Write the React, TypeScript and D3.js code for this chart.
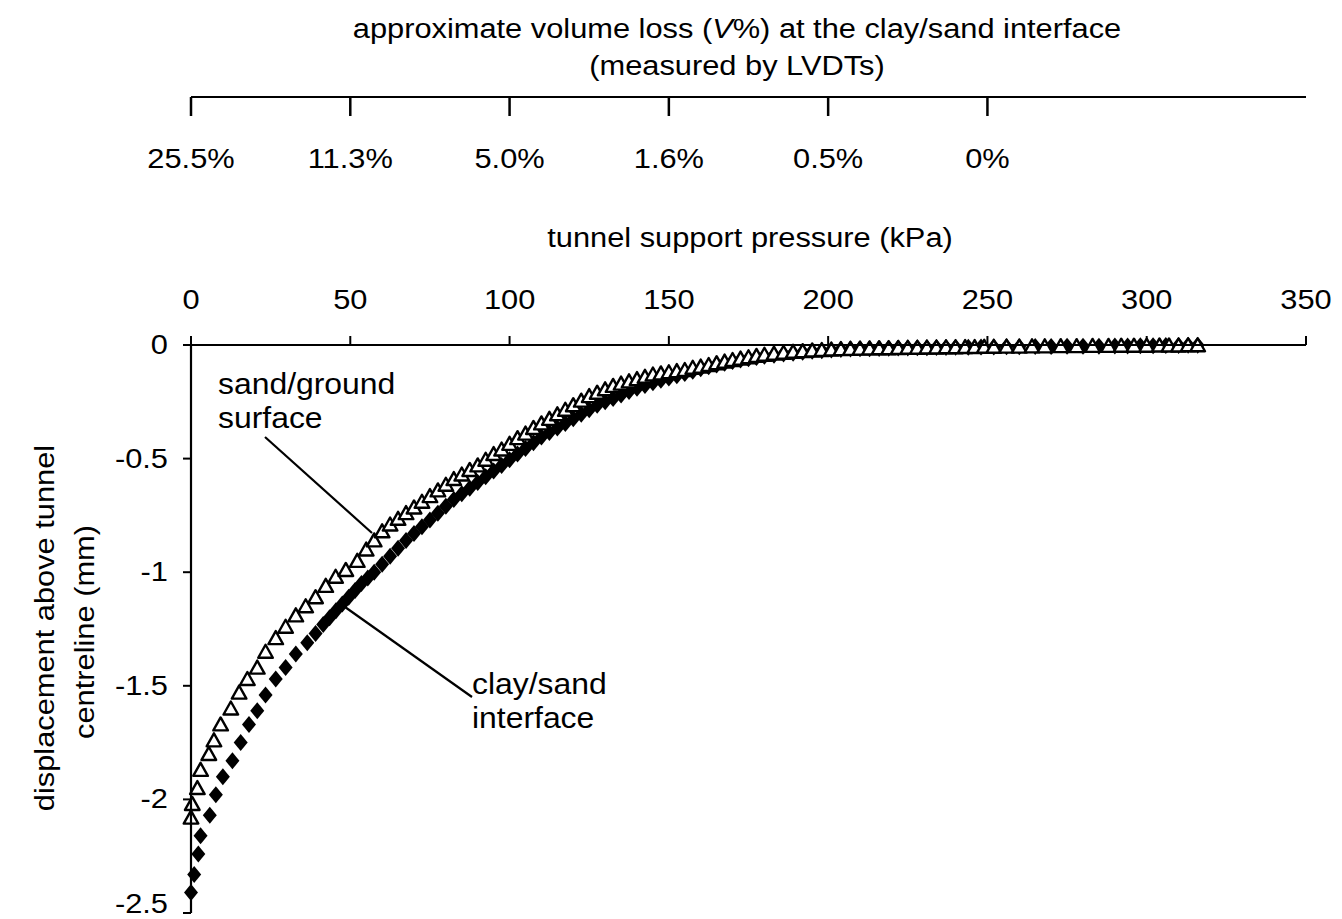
import React from "react";
import * as d3 from "d3";

// sand/ground surface (open triangles): [support pressure kPa, displacement mm]
const sandSurface: [number, number][] = [
  [0, -2.08], [0.4, -2.02], [2.0, -1.95], [3.0, -1.87], [5.6, -1.8], [7.2, -1.74],
  [9.3, -1.67], [12.5, -1.6], [15.1, -1.53], [17.7, -1.47], [20.8, -1.42], [23.4, -1.35],
  [26.6, -1.29], [29.7, -1.24], [32.9, -1.19], [36.0, -1.15], [39.1, -1.11], [42.3, -1.06],
  [45.4, -1.02], [48.6, -0.99], [52.2, -0.95], [55, -0.9], [57.5, -0.86], [60, -0.82],
  [62.5, -0.79], [65, -0.765], [67.5, -0.74], [70, -0.715], [72.5, -0.69], [75, -0.665],
  [77.5, -0.64], [80, -0.615], [82.5, -0.59], [85, -0.57], [87.5, -0.55], [90, -0.53],
  [92.5, -0.505], [95, -0.48], [97.5, -0.46], [100, -0.435], [102.5, -0.41], [105, -0.39],
  [107.5, -0.365], [110, -0.345], [112.5, -0.325], [115, -0.305], [117.5, -0.285], [120, -0.265],
  [122.5, -0.245], [125, -0.225], [127.5, -0.21], [130, -0.195], [132.5, -0.18], [135, -0.17],
  [137.5, -0.16], [140, -0.15], [142.5, -0.14], [145, -0.13], [147.5, -0.125], [150, -0.12],
  [152.5, -0.115], [155, -0.11], [157.5, -0.1], [160, -0.095], [162.5, -0.088], [165, -0.08],
  [167.5, -0.073], [170, -0.066], [172.5, -0.06], [175, -0.054], [177.5, -0.048], [180, -0.043],
  [183, -0.038], [186, -0.034], [189, -0.03], [192, -0.027], [195, -0.024], [198, -0.022],
  [201, -0.02], [204, -0.018], [207, -0.017], [210, -0.016], [213, -0.015], [216, -0.014],
  [219, -0.014], [222, -0.013], [225, -0.012], [228, -0.012], [231, -0.011], [234, -0.011],
  [237, -0.01], [240, -0.01], [243, -0.009], [246, -0.009], [249, -0.008], [252, -0.008],
  [256, -0.007], [260, -0.007], [264, -0.006], [268, -0.006], [273, -0.005], [278, -0.005],
  [283, -0.004], [288, -0.004], [292, -0.003], [296, -0.003], [300, -0.003], [304, -0.002],
  [307, -0.002], [310, -0.002], [313, -0.001], [316, -0.001],
];

// clay/sand interface (filled diamonds)
const claySand: [number, number][] = [
  [0, -2.41], [1.0, -2.33], [2.3, -2.24], [3.0, -2.16], [5.9, -2.07], [7.8, -1.98],
  [10.0, -1.9], [13.0, -1.83], [15.6, -1.75], [18.2, -1.67], [20.8, -1.61], [23.4, -1.54],
  [26.6, -1.47], [29.7, -1.42], [32.9, -1.36], [36.5, -1.31], [39.1, -1.27], [41.5, -1.23],
  [43.5, -1.2], [45.5, -1.17], [47.5, -1.14], [49.5, -1.11], [51.5, -1.08], [53.5, -1.05],
  [55.5, -1.025], [57.5, -1.0], [60, -0.965], [62.5, -0.93], [65, -0.895], [67.5, -0.86],
  [70, -0.83], [72.5, -0.8], [75, -0.77], [77.5, -0.74], [80, -0.71], [82.5, -0.68],
  [85, -0.655], [87.5, -0.63], [90, -0.605], [92.5, -0.58], [95, -0.555], [97.5, -0.53],
  [100, -0.505], [102.5, -0.48], [105, -0.455], [107.5, -0.43], [110, -0.405], [112.5, -0.385],
  [115, -0.365], [117.5, -0.345], [120, -0.325], [122.5, -0.305], [125, -0.285], [127.5, -0.265],
  [130, -0.25], [132.5, -0.235], [135, -0.22], [137.5, -0.205], [140, -0.19], [142.5, -0.178],
  [145, -0.166], [147.5, -0.155], [150, -0.145], [152.5, -0.135], [155, -0.125], [157.5, -0.115],
  [160, -0.105], [162.5, -0.096], [165, -0.088], [167.5, -0.08], [170, -0.073], [172.5, -0.066],
  [175, -0.06], [177.5, -0.055], [180, -0.05], [183, -0.045], [186, -0.04], [189, -0.036],
  [192, -0.032], [195, -0.028], [198, -0.025], [201, -0.022], [204, -0.02], [207, -0.018],
  [210, -0.017], [213, -0.016], [216, -0.015], [219, -0.014], [222, -0.013], [225, -0.013],
  [228, -0.012], [231, -0.012], [234, -0.011], [237, -0.011], [240, -0.01], [244, -0.01],
  [248, -0.009], [252, -0.009], [256, -0.008], [260, -0.008], [265, -0.007], [270, -0.007],
  [275, -0.006], [280, -0.005], [285, -0.005], [290, -0.004], [294, -0.004], [298, -0.003],
  [302, -0.003], [306, -0.002], [310, -0.002], [313, -0.001], [316, -0.001],
];

const pressureTicks = [0, 50, 100, 150, 200, 250, 300, 350];
const dispTicks = [0, -0.5, -1, -1.5, -2, -2.5];
// volume loss labels sit at these support pressures
const volumeLossAt = [0, 50, 100, 150, 200, 250];
const volumeLossLabels = ["25.5%", "11.3%", "5.0%", "1.6%", "0.5%", "0%"];

const W = 1342;
const H = 919;
const FONT = "'Liberation Sans', Arial, sans-serif";
const SX = 1.1; // the original lettering is a little wide

// text stretched horizontally like the scanned figure
const T = ({ x, y, size = 28, anchor = "start", rotate = 0, children }: any) => (
  <text
    transform={`translate(${x},${y})${rotate ? ` rotate(${rotate})` : ""} scale(${SX},1)`}
    fontSize={size}
    textAnchor={anchor}
  >
    {children}
  </text>
);

const App = () => {
  const x = d3.scaleLinear().domain([0, 350]).range([191, 1306]);
  const y = d3.scaleLinear().domain([0, -2.5]).range([345, 913]);
  const topY = 97;

  const tri = "M0,-7L7.3,6L-7.3,6Z";
  const diamond = "M0,-8.5L7,0L0,8.5L-7,0Z";

  return (
    <svg width={W} height={H} style={{ position: "absolute", left: 0, top: 0, background: "#fff" }}
      fontFamily={FONT} fill="#000">
      {/* volume loss axis */}
      <T x={737} y={38} anchor="middle">
        approximate volume loss (<tspan fontStyle="italic">V</tspan>%) at the clay/sand interface
      </T>
      <T x={737} y={75} anchor="middle">(measured by LVDTs)</T>
      <line x1={x(0)} x2={x(350)} y1={topY} y2={topY} stroke="#000" strokeWidth={2.2} />
      {volumeLossAt.map((p, i) => (
        <g key={i}>
          <line x1={x(p)} x2={x(p)} y1={topY} y2={topY + 19} stroke="#000" strokeWidth={2.5} />
          <T x={x(p)} y={168} anchor="middle">{volumeLossLabels[i]}</T>
        </g>
      ))}

      {/* pressure axis */}
      <T x={750} y={247} anchor="middle">tunnel support pressure (kPa)</T>
      {pressureTicks.map((p) => (
        <g key={p}>
          <line x1={x(p)} x2={x(p)} y1={y(0)} y2={y(0) - 9} stroke="#000" strokeWidth={2} />
          <T x={x(p)} y={309} anchor="middle">{p}</T>
        </g>
      ))}

      {/* displacement axis */}
      {dispTicks.map((d) => (
        <g key={d}>
          <line x1={x(0) - 8} x2={x(0)} y1={y(d)} y2={y(d)} stroke="#000" strokeWidth={2} />
          <T x={168} y={Math.min(y(d) + 9, 913)} anchor="end">{d}</T>
        </g>
      ))}
      <T x={54} y={628} rotate={-90} anchor="middle">displacement above tunnel</T>
      <T x={94} y={632} rotate={-90} anchor="middle">centreline (mm)</T>

      {/* markers */}
      {claySand.map(([p, d], i) => (
        <path key={"c" + i} d={diamond} transform={`translate(${x(p)},${y(d)})`} fill="#000" />
      ))}
      {sandSurface.map(([p, d], i) => (
        <path key={"s" + i} d={tri} transform={`translate(${x(p)},${y(d)})`}
          fill="#fff" stroke="#000" strokeWidth={2.4} strokeLinejoin="round" />
      ))}

      <line x1={x(0)} x2={x(350)} y1={y(0)} y2={y(0)} stroke="#000" strokeWidth={2.2} />
      <line x1={x(0)} x2={x(0)} y1={y(0)} y2={y(-2.5)} stroke="#000" strokeWidth={2.2} />

      {/* labels */}
      <T x={218} y={394} size={29}>sand/ground</T>
      <T x={218} y={428} size={29}>surface</T>
      <line x1={265} y1={437} x2={372} y2={533} stroke="#000" strokeWidth={2.2} />
      <T x={472} y={694} size={29}>clay/sand</T>
      <T x={472} y={728} size={29}>interface</T>
      <line x1={345} y1={607} x2={472} y2={697} stroke="#000" strokeWidth={2.2} />
    </svg>
  );
};

export default App;
